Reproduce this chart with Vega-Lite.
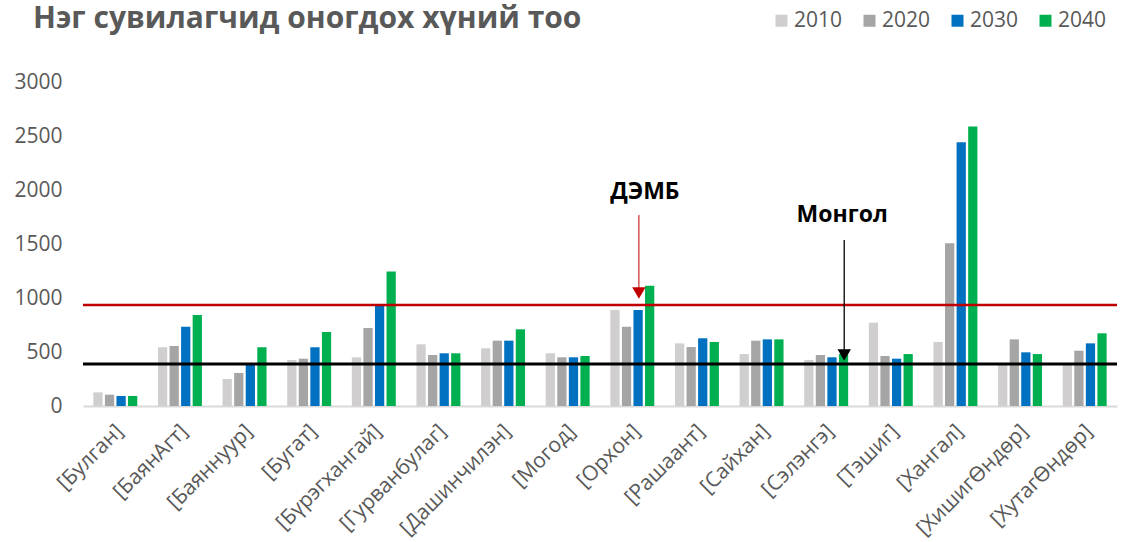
{
  "$schema": "https://vega.github.io/schema/vega-lite/v6.json",
  "width": 1034,
  "height": 324,
  "autosize": {"type": "none"},
  "padding": {"left": 83, "top": 82, "right": 5, "bottom": 136},
  "background": "white",
  "title": {"text": "Нэг сувилагчид  оногдох хүний тоо", "anchor": "start", "frame": "group", "font": "Open Sans", "fontSize": 30, "fontWeight": "bold", "color": "#595959", "dx": -50, "dy": 28},
  "config": {"view": {"stroke": null}, "font": "Open Sans"},
  "datasets": {
    "bars": [
      {"region": "[Булган]", "year": "2010", "value": 126}, {"region": "[Булган]", "year": "2020", "value": 105}, {"region": "[Булган]", "year": "2030", "value": 93}, {"region": "[Булган]", "year": "2040", "value": 93},
      {"region": "[БаянАгт]", "year": "2010", "value": 544}, {"region": "[БаянАгт]", "year": "2020", "value": 556}, {"region": "[БаянАгт]", "year": "2030", "value": 734}, {"region": "[БаянАгт]", "year": "2040", "value": 843},
      {"region": "[Баяннуур]", "year": "2010", "value": 250}, {"region": "[Баяннуур]", "year": "2020", "value": 306}, {"region": "[Баяннуур]", "year": "2030", "value": 389}, {"region": "[Баяннуур]", "year": "2040", "value": 544},
      {"region": "[Бугат]", "year": "2010", "value": 426}, {"region": "[Бугат]", "year": "2020", "value": 438}, {"region": "[Бугат]", "year": "2030", "value": 544}, {"region": "[Бугат]", "year": "2040", "value": 685},
      {"region": "[Бүрэгхангай]", "year": "2010", "value": 451}, {"region": "[Бүрэгхангай]", "year": "2020", "value": 722}, {"region": "[Бүрэгхангай]", "year": "2030", "value": 932}, {"region": "[Бүрэгхангай]", "year": "2040", "value": 1245},
      {"region": "[Гурванбулаг]", "year": "2010", "value": 571}, {"region": "[Гурванбулаг]", "year": "2020", "value": 472}, {"region": "[Гурванбулаг]", "year": "2030", "value": 488}, {"region": "[Гурванбулаг]", "year": "2040", "value": 488},
      {"region": "[Дашинчилэн]", "year": "2010", "value": 534}, {"region": "[Дашинчилэн]", "year": "2020", "value": 605}, {"region": "[Дашинчилэн]", "year": "2030", "value": 605}, {"region": "[Дашинчилэн]", "year": "2040", "value": 710},
      {"region": "[Могод]", "year": "2010", "value": 488}, {"region": "[Могод]", "year": "2020", "value": 451}, {"region": "[Могод]", "year": "2030", "value": 451}, {"region": "[Могод]", "year": "2040", "value": 463},
      {"region": "[Орхон]", "year": "2010", "value": 889}, {"region": "[Орхон]", "year": "2020", "value": 734}, {"region": "[Орхон]", "year": "2030", "value": 889}, {"region": "[Орхон]", "year": "2040", "value": 1114},
      {"region": "[Рашаант]", "year": "2010", "value": 580}, {"region": "[Рашаант]", "year": "2020", "value": 546}, {"region": "[Рашаант]", "year": "2030", "value": 627}, {"region": "[Рашаант]", "year": "2040", "value": 593},
      {"region": "[Сайхан]", "year": "2010", "value": 481}, {"region": "[Сайхан]", "year": "2020", "value": 605}, {"region": "[Сайхан]", "year": "2030", "value": 617}, {"region": "[Сайхан]", "year": "2040", "value": 617},
      {"region": "[Сэлэнгэ]", "year": "2010", "value": 426}, {"region": "[Сэлэнгэ]", "year": "2020", "value": 472}, {"region": "[Сэлэнгэ]", "year": "2030", "value": 451}, {"region": "[Сэлэнгэ]", "year": "2040", "value": 481},
      {"region": "[Тэшиг]", "year": "2010", "value": 771}, {"region": "[Тэшиг]", "year": "2020", "value": 463}, {"region": "[Тэшиг]", "year": "2030", "value": 438}, {"region": "[Тэшиг]", "year": "2040", "value": 481},
      {"region": "[Хангал]", "year": "2010", "value": 593}, {"region": "[Хангал]", "year": "2020", "value": 1507}, {"region": "[Хангал]", "year": "2030", "value": 2442}, {"region": "[Хангал]", "year": "2040", "value": 2587},
      {"region": "[ХишигӨндөр]", "year": "2010", "value": 380}, {"region": "[ХишигӨндөр]", "year": "2020", "value": 617}, {"region": "[ХишигӨндөр]", "year": "2030", "value": 497}, {"region": "[ХишигӨндөр]", "year": "2040", "value": 481},
      {"region": "[ХутагӨндөр]", "year": "2010", "value": 380}, {"region": "[ХутагӨндөр]", "year": "2020", "value": 512}, {"region": "[ХутагӨндөр]", "year": "2030", "value": 580}, {"region": "[ХутагӨндөр]", "year": "2040", "value": 673}
    ]
  },
  "layer": [
    {
      "data": {"name": "bars"},
      "mark": {"type": "bar"},
      "encoding": {
        "x": {"field": "region", "type": "nominal", "sort": null, "title": null,
          "scale": {"paddingInner": 0.32, "paddingOuter": 0.16},
          "axis": {"labelAngle": -45, "labelFontSize": 21, "labelColor": "#595959", "domainColor": "#d9d9d9", "domainWidth": 2, "ticks": false, "labelPadding": 14, "labelOffset": -3}},
        "xOffset": {"field": "year", "type": "nominal", "scale": {"paddingInner": 0.2}},
        "y": {"field": "value", "type": "quantitative", "title": null,
          "scale": {"domain": [0, 3000], "nice": false},
          "axis": {"values": [0, 500, 1000, 1500, 2000, 2500, 3000], "format": "d", "domain": false, "ticks": false, "grid": false, "labelFontSize": 21, "labelColor": "#595959", "labelPadding": 21}},
        "color": {"field": "year", "type": "nominal",
          "scale": {"domain": ["2010", "2020", "2030", "2040"], "range": ["#d0cece", "#a5a5a5", "#0070c0", "#00b050"]},
          "legend": {"orient": "none", "legendX": 688, "legendY": -72, "padding": 0, "direction": "horizontal", "title": null, "symbolType": "square", "symbolSize": 144, "symbolStrokeWidth": 0, "labelFontSize": 21, "labelColor": "#595959", "columnPadding": 16, "labelOffset": 2}}
      }
    },
    {
      "data": {"values": [{"label": "ДЭМБ", "region": "[Орхон]", "level": 935, "textY": 1982, "arrowTop": 1768, "arrowEnd": 1040, "head": 1046}]},
      "layer": [
        {"mark": {"type": "rule", "color": "#c00000", "strokeWidth": 2.5}, "encoding": {"y": {"field": "level", "type": "quantitative", "title": null}}},
        {"mark": {"type": "rule", "color": "#c00000", "strokeWidth": 1}, "encoding": {"x": {"field": "region", "type": "nominal", "sort": null, "bandPosition": 0.65, "title": null}, "y": {"field": "arrowTop", "type": "quantitative", "title": null}, "y2": {"field": "arrowEnd"}}},
        {"mark": {"type": "point", "shape": "triangle-down", "filled": true, "color": "#c00000", "size": 180, "opacity": 1}, "encoding": {"x": {"field": "region", "type": "nominal", "sort": null, "bandPosition": 0.65, "title": null}, "y": {"field": "head", "type": "quantitative", "title": null}}},
        {"mark": {"type": "text", "font": "Open Sans", "fontWeight": "bold", "fontSize": 23, "color": "#000000", "dx": 6}, "encoding": {"x": {"field": "region", "type": "nominal", "sort": null, "bandPosition": 0.65, "title": null}, "y": {"field": "textY", "type": "quantitative", "title": null}, "text": {"field": "label"}}}
      ]
    },
    {
      "data": {"values": [{"label": "Монгол", "region": "[Сэлэнгэ]", "level": 389, "textY": 1769, "arrowTop": 1537, "arrowEnd": 460, "head": 472}]},
      "layer": [
        {"mark": {"type": "rule", "color": "#000000", "strokeWidth": 3}, "encoding": {"y": {"field": "level", "type": "quantitative", "title": null}}},
        {"mark": {"type": "rule", "color": "#000000", "strokeWidth": 1.3}, "encoding": {"x": {"field": "region", "type": "nominal", "sort": null, "bandPosition": 0.91, "title": null}, "y": {"field": "arrowTop", "type": "quantitative", "title": null}, "y2": {"field": "arrowEnd"}}},
        {"mark": {"type": "point", "shape": "triangle-down", "filled": true, "color": "#000000", "size": 180, "opacity": 1}, "encoding": {"x": {"field": "region", "type": "nominal", "sort": null, "bandPosition": 0.91, "title": null}, "y": {"field": "head", "type": "quantitative", "title": null}}},
        {"mark": {"type": "text", "font": "Open Sans", "fontWeight": "bold", "fontSize": 23, "color": "#000000", "dx": -2}, "encoding": {"x": {"field": "region", "type": "nominal", "sort": null, "bandPosition": 0.91, "title": null}, "y": {"field": "textY", "type": "quantitative", "title": null}, "text": {"field": "label"}}}
      ]
    }
  ]
}
